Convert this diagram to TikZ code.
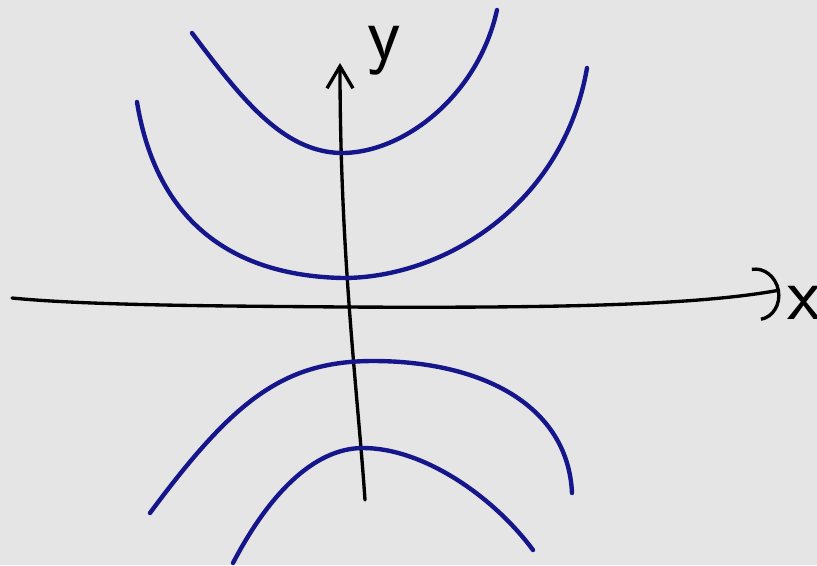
\documentclass[tikz,border=0pt]{standalone}
\usepackage{tikz}
\usetikzlibrary{arrows.meta}
\definecolor{paper}{RGB}{229,229,229}
\definecolor{inkblue}{RGB}{22,22,140}
\tikzset{
  hypcurve/.style = {inkblue,line width=1.25pt,line cap=round},
  axisline/.style = {black,line width=0.95pt,line cap=round},
  yarr/.style     = {-{Straight Barb[length=2.2mm,width=2.6mm]}},
  xarr/.style     = {-{Arc Barb[length=2.4mm,width=5.4mm]}},
  handlabel/.style= {font=\sffamily\fontsize{22}{22}\selectfont,inner sep=0pt}
}

\begin{document}
\begin{tikzpicture}
  \fill[paper] (-3.43,-2.59) rectangle (4.74,3.06);
  \useasboundingbox (-3.43,-2.59) rectangle (4.74,3.06);
  % axes
  \draw[axisline,xarr] (-3.31,0.08) .. controls (-2.5,0.0) and (-1,0.0) .. (0,-0.01)
                       .. controls (2.0,-0.02) and (3.5,0.0) .. (4.37,0.16);
  \draw[axisline,yarr] (0.22,-1.94) .. controls (0.15,-0.9) and (-0.03,0.5) .. (-0.03,2.43);
  \node[handlabel] (ylab) at (0.41,2.55) {y};
  \node[handlabel] (xlab) at (4.61,0.03) {x};
  % upper branches
  \draw[hypcurve] (-1.51,2.73) .. controls (-1.0,2.05) and (-0.6,1.55) .. (-0.03,1.53)
                  .. controls (0.6,1.52) and (1.35,2.1) .. (1.54,2.96);
  \draw[hypcurve] (-2.06,2.04) .. controls (-1.85,0.75) and (-1.0,0.3) .. (0,0.28)
                  .. controls (1.0,0.28) and (2.2,1.0) .. (2.44,2.38);
  % lower branches
  \draw[hypcurve] (-1.93,-2.07) .. controls (-1.1,-0.95) and (-0.6,-0.55) .. (0.3,-0.55)
                  .. controls (1.4,-0.55) and (2.25,-1.0) .. (2.29,-1.87);
  \draw[hypcurve] (-1.10,-2.57) .. controls (-0.75,-1.9) and (-0.3,-1.42) .. (0.2,-1.42)
                  .. controls (0.8,-1.42) and (1.5,-1.9) .. (1.90,-2.44);
\end{tikzpicture}
\end{document}
